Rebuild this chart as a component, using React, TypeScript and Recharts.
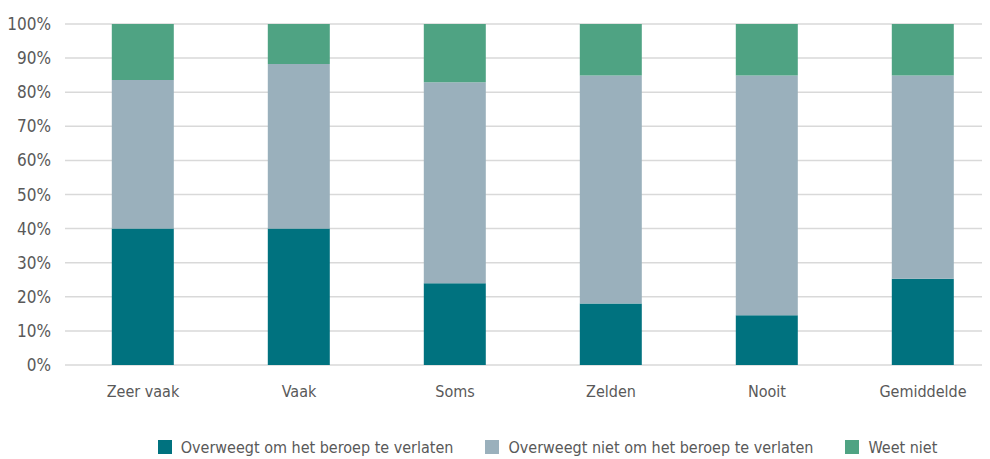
import React from "react";
import { BarChart, Bar, XAxis, YAxis, CartesianGrid, Legend } from "recharts";

const categories = ["Zeer vaak", "Vaak", "Soms", "Zelden", "Nooit", "Gemiddelde"];
const overweegt = [40, 40, 24, 18, 14.6, 25.3];
const overweegtNiet = [43.6, 48.3, 58.9, 66.9, 70.3, 59.6];
const weetNiet = [16.4, 11.7, 17.1, 15.1, 15.1, 15.1];
const yTicks = [0, 10, 20, 30, 40, 50, 60, 70, 80, 90, 100];

const seriesNames = [
  "Overweegt om het beroep te verlaten",
  "Overweegt niet om het beroep te verlaten",
  "Weet niet",
];
const colors = ["#00727F", "#9AB0BC", "#4FA383"];

const data = categories.map((c, i) => ({
  name: c,
  a: overweegt[i],
  b: overweegtNiet[i],
  c: weetNiet[i],
}));

const FONT = '"Liberation Sans Narrow", "DejaVu Sans Condensed", "Roboto", sans-serif';
const TEXT = "#595959";

const LegendContent = () => (
  <div
    style={{
      display: "flex",
      justifyContent: "center",
      alignItems: "center",
      fontFamily: FONT,
      fontSize: 16,
      color: TEXT,
      height: 24,
      paddingLeft: 86,
    }}
  >
    {seriesNames.map((n, i) => (
      <div key={n} style={{ display: "flex", alignItems: "center", marginRight: i < 2 ? 32 : 0 }}>
        <span style={{ width: 14, height: 14, background: colors[i], display: "inline-block", marginRight: 9 }} />
        <span>{n}</span>
      </div>
    ))}
  </div>
);

export default function App() {
  return (
    <div style={{ width: 982, height: 451, overflow: "hidden" }}>
      <BarChart
        width={993}
        height={451}
        data={data}
        margin={{ top: 16, right: 0, bottom: 0, left: 0 }}
        barCategoryGap="30%"
      >
        <CartesianGrid vertical={false} stroke="#D9D9D9" strokeWidth={1.5} />
        <XAxis
          dataKey="name"
          axisLine={false}
          tickLine={false}
          tickMargin={15}
          height={70}
          tick={{ fill: TEXT, fontSize: 16, fontFamily: FONT }}
        />
        <YAxis
          domain={[0, 100]}
          ticks={yTicks}
          tickFormatter={(v: number) => `${v}%`}
          axisLine={false}
          tickLine={false}
          tickMargin={8}
          width={57}
          tick={{ fill: TEXT, fontSize: 17, fontFamily: FONT }}
        />
        <Legend verticalAlign="bottom" height={24} content={<LegendContent />} />
        <Bar dataKey="a" stackId="s" fill={colors[0]} isAnimationActive={false} />
        <Bar dataKey="b" stackId="s" fill={colors[1]} isAnimationActive={false} />
        <Bar dataKey="c" stackId="s" fill={colors[2]} isAnimationActive={false} />
      </BarChart>
    </div>
  );
}
